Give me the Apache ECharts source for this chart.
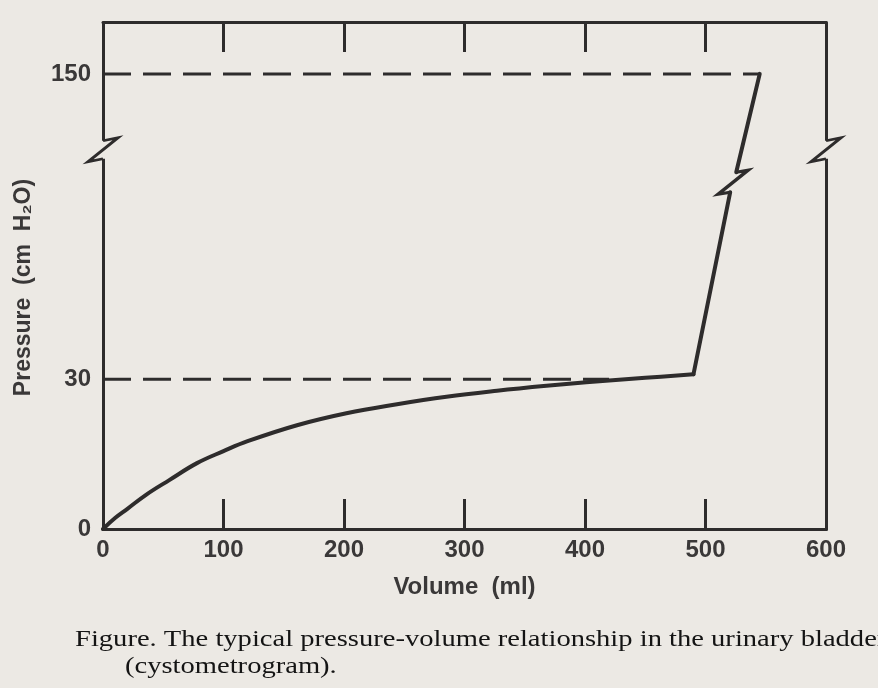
<!DOCTYPE html>
<html><head><meta charset="utf-8">
<script src="https://cdn.jsdelivr.net/npm/echarts@6/dist/echarts.min.js"></script>
<style>html,body{margin:0;padding:0;background:#ece9e4}#chart{width:878px;height:688px}</style>
</head><body><div id="chart"></div>
<script>
// ---- data ----
const xTickValues = [0, 100, 200, 300, 400, 500, 600];
const xInnerTicks = [100, 200, 300, 400, 500];
const yTickValues = [0, 30, 150];

// filling curve (volume ml, pressure cm H2O) up to the knee
const fillVolume   = [0, 10, 20, 36, 55, 78, 100, 120, 161, 202, 244, 285, 327, 368, 401, 450, 490];
const fillPressure = [0, 2.2, 4.0, 6.9, 9.8, 13.2, 15.6, 17.6, 20.8, 23.2, 25.0, 26.5, 27.7, 28.7, 29.4, 30.3, 31.0];
// steep rise from the knee to the curve break mark
const riseLowVolume   = [490, 520.5];
const riseLowPressure = [31.0, 67.5];
// steep rise after the curve break mark
const riseHighVolume   = [525.5, 545];
const riseHighPressure = [71.5, 150];

// dashed reference levels
const ref30Volume    = [0, 420];
const ref30Pressure  = [30, 30];
const ref150Volume   = [0, 545];
const ref150Pressure = [150, 150];

// broken pressure axis
const axisBreakStart = 76;
const axisBreakEnd = 134.8;
const breakMarkVolume = [0, 600];
const breakMarkPressure = [76, 76];
const curveBreakVolume = [523];
const curveBreakPressure = [69.5];

const captionLines = [
  'Figure. The typical pressure-volume relationship in the urinary bladder',
  '(cystometrogram).'
];

// ---- chart ----
const ink = '#2e2c2c';
const bg = '#ece9e4';
const zip = (a, b) => a.map((v, i) => [v, b[i]]);

const chart = echarts.init(document.getElementById('chart'), null, {renderer: 'canvas'});

const labelFont = {fontFamily: '"Liberation Sans", Arial, sans-serif', fontWeight: 'bold', color: '#3a3838'};
const solid = {color: ink, width: 4, cap: 'round', join: 'round'};

chart.setOption({
  animation: false,
  backgroundColor: bg,
  grid: {left: 103, right: 52, top: 22, bottom: 159, containLabel: false, outerBoundsMode: 'none'},
  xAxis: [{
    type: 'value', position: 'bottom', min: 0, max: 600, interval: 100,
    axisLine: {show: true, onZero: false, lineStyle: {color: ink, width: 3}},
    axisTick: {show: true, inside: true, length: 30, customValues: xInnerTicks, lineStyle: {color: ink, width: 3}},
    splitLine: {show: false},
    axisLabel: Object.assign({fontSize: 24, margin: 9, customValues: xTickValues}, labelFont),
    name: 'Volume  (ml)', nameLocation: 'middle', nameGap: 46,
    nameTextStyle: Object.assign({fontSize: 24}, labelFont)
  }, {
    type: 'value', position: 'top', min: 0, max: 600, interval: 100,
    axisLine: {show: true, onZero: false, lineStyle: {color: ink, width: 3}},
    axisTick: {show: true, inside: true, length: 30, customValues: xInnerTicks, lineStyle: {color: ink, width: 3}},
    splitLine: {show: false},
    axisLabel: {show: false}
  }],
  yAxis: [{
    type: 'value', position: 'left', min: 0, max: 160.4,
    breaks: [{start: axisBreakStart, end: axisBreakEnd, gap: 0}],
    breakArea: {show: false},
    axisLine: {show: true, onZero: false, lineStyle: {color: ink, width: 3}},
    axisTick: {show: false},
    splitLine: {show: false},
    axisLabel: Object.assign({fontSize: 24, margin: 12, customValues: yTickValues}, labelFont),
    name: 'Pressure  (cm  H\u2082O)', nameLocation: 'middle', nameGap: 68, nameRotate: 90,
    nameTextStyle: Object.assign({fontSize: 23, padding: [0, 24, 0, 0]}, labelFont)
  }, {
    type: 'value', position: 'right', min: 0, max: 160.4,
    breaks: [{start: axisBreakStart, end: axisBreakEnd, gap: 0}],
    breakArea: {show: false},
    axisLine: {show: true, onZero: false, lineStyle: {color: ink, width: 3}},
    axisTick: {show: false},
    splitLine: {show: false},
    axisLabel: {show: false}
  }],
  series: [
    {
      name: 'ref30', type: 'line', clip: false, symbol: 'none', z: 2,
      data: zip(ref30Volume, ref30Pressure),
      lineStyle: {color: ink, width: 3, type: [28, 12]}
    },
    {
      name: 'ref150', type: 'line', clip: false, symbol: 'none', z: 2,
      data: zip(ref150Volume, ref150Pressure),
      lineStyle: {color: ink, width: 3, type: [28, 12]}
    },
    {
      name: 'filling', type: 'line', clip: false, symbol: 'none', smooth: 0.4, z: 3,
      data: zip(fillVolume, fillPressure),
      lineStyle: solid
    },
    {
      name: 'riseLow', type: 'line', clip: false, symbol: 'none', z: 3,
      data: zip(riseLowVolume, riseLowPressure),
      lineStyle: solid
    },
    {
      name: 'riseHigh', type: 'line', clip: false, symbol: 'none', z: 3,
      data: zip(riseHighVolume, riseHighPressure),
      lineStyle: solid
    },
    {
      name: 'axisBreakMask', type: 'scatter', clip: false, z: 4, silent: true,
      data: zip(breakMarkVolume, breakMarkPressure),
      symbol: 'rect', symbolSize: [10, 18],
      itemStyle: {color: bg, opacity: 1}
    },
    {
      name: 'axisBreakMark', type: 'scatter', clip: false, z: 5, silent: true,
      data: zip(breakMarkVolume, breakMarkPressure),
      symbol: 'path://M0,-9 L15,-12 L-15,12 L0,9', symbolSize: [30, 24],
      itemStyle: {color: 'rgba(0,0,0,0)', borderColor: ink, borderWidth: 3, opacity: 1}
    },
    {
      name: 'curveBreakMark', type: 'scatter', clip: false, z: 5, silent: true,
      data: zip(curveBreakVolume, curveBreakPressure),
      symbol: 'path://M3,-10 L15,-12 L-15,12 L-3,10', symbolSize: [30, 24],
      itemStyle: {color: 'rgba(0,0,0,0)', borderColor: ink, borderWidth: 3.5, opacity: 1}
    }
  ],
  graphic: [
    {
      type: 'text', x: 75, y: 640, scaleX: 1.19,
      style: {text: captionLines[0], font: '24px "Liberation Serif", "Times New Roman", serif', fill: '#141414', verticalAlign: 'middle', align: 'left'}
    },
    {
      type: 'text', x: 125, y: 667, scaleX: 1.19,
      style: {text: captionLines[1], font: '24px "Liberation Serif", "Times New Roman", serif', fill: '#141414', verticalAlign: 'middle', align: 'left'}
    }
  ]
});
</script>
</body></html>
